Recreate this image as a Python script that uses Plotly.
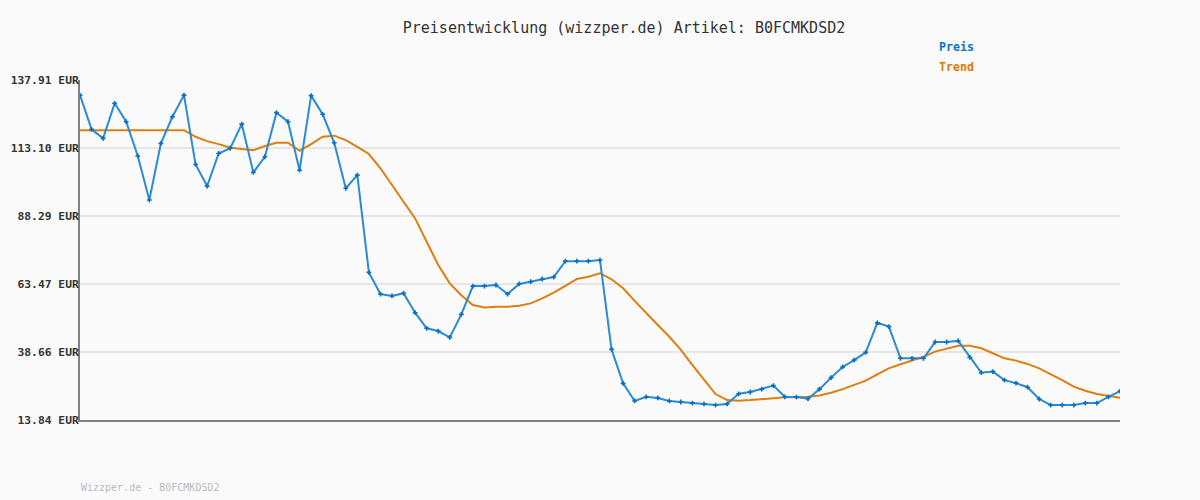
import plotly.graph_objects as go

idx = list(range(91))

preis = [132.4, 119.9, 116.6, 129.4, 122.7, 110.2, 94.1, 114.8, 124.5, 132.4,
         107.1, 99.2, 111.1, 113.0, 121.8, 104.2, 109.9, 126.0, 122.7, 105.0,
         132.2, 125.4, 115.0, 98.4, 103.2, 67.7, 59.8, 59.1, 60.1, 53.0,
         47.3, 46.3, 44.0, 52.4, 62.7, 62.7, 63.1, 59.8, 63.5, 64.3,
         65.3, 66.0, 71.8, 71.8, 71.8, 72.2, 39.6, 27.2, 20.8, 22.3,
         21.9, 20.8, 20.4, 20.0, 19.7, 19.3, 19.7, 23.4, 24.05, 25.1,
         26.4, 22.3, 22.2, 21.6, 25.1, 29.3, 33.2, 35.7, 38.5, 49.3,
         47.9, 36.35, 36.35, 36.35, 42.3, 42.3, 42.7, 36.7, 31.1, 31.5,
         28.4, 27.3, 25.8, 21.5, 19.3, 19.3, 19.3, 20.0, 20.0, 22.3,
         24.4]

trend = [119.6, 119.6, 119.6, 119.6, 119.6, 119.6, 119.6, 119.6, 119.6, 119.6,
         117.2, 115.6, 114.5, 113.2, 112.7, 112.3, 113.8, 115.0, 115.0, 112.1,
         114.5, 117.2, 117.6, 116.0, 113.5, 110.9, 105.7, 99.6, 93.5, 87.4,
         78.9, 70.4, 63.7, 59.4, 55.8, 54.9, 55.2, 55.2, 55.5, 56.4,
         58.2, 60.3, 62.8, 65.3, 66.1, 67.4, 65.2, 61.9, 57.3, 52.8,
         48.5, 44.2, 39.4, 33.9, 28.4, 23.3, 21.1, 20.9, 21.1, 21.5,
         21.9, 22.1, 22.1, 22.3, 22.8, 23.8, 25.1, 26.6, 28.2, 30.5,
         32.7, 34.2, 35.5, 36.9, 38.8, 39.8, 40.9, 40.9, 40.0, 38.2,
         36.35, 35.5, 34.3, 32.7, 30.6, 28.4, 26.0, 24.5, 23.3, 22.6,
         22.0]

tick_vals = [13.84, 38.66, 63.47, 88.29, 113.10, 137.91]
tick_text = ["13.84 EUR", "38.66 EUR", "63.47 EUR", "88.29 EUR", "113.10 EUR", "137.91 EUR"]

title_text = "Preisentwicklung (wizzper.de) Artikel: B0FCMKDSD2"
footer_text = "Wizzper.de - B0FCMKDSD2"

MONO = "DejaVu Sans Mono"
BLUE_LINE = "#2b8bd3"
BLUE_MARK = "#0a6fc0"
ORANGE = "#e07d10"

fig = go.Figure()
fig.add_trace(go.Scatter(x=idx, y=trend, mode="lines", name="Trend",
                         line=dict(color=ORANGE, width=2), hoverinfo="skip"))
fig.add_trace(go.Scatter(x=idx, y=preis, mode="lines+markers", name="Preis",
                         line=dict(color=BLUE_LINE, width=2),
                         marker=dict(symbol="cross", size=4, color=BLUE_MARK)))

padded = [t.rjust(10, "\u00a0") for t in tick_text]

pw, ph = 1200 - 160, 500 - 160
def px(xp):
    return (xp - 80) / pw
def py(yp):
    return (420 - yp) / ph

fig.update_layout(
    width=1200, height=500,
    paper_bgcolor="#fafafa", plot_bgcolor="#fafafa",
    margin=dict(l=80, r=80, t=80, b=80, autoexpand=False),
    showlegend=False,
    title=dict(text=title_text, x=0.52, xanchor="center", y=1 - 28 / 500,
               yanchor="middle", yref="container",
               font=dict(family=MONO, size=15, color="#333333")),
    xaxis=dict(range=[0, 90], showgrid=False, zeroline=False, showticklabels=False,
               ticks="", showline=True, linecolor="#808080", linewidth=2,
               automargin=False),
    yaxis=dict(range=[13.84, 137.91], tickvals=tick_vals, ticktext=padded,
               showgrid=True, gridcolor="#e6e6e6", gridwidth=2, zeroline=False,
               showline=True, linecolor="#808080", linewidth=2, ticks="",
               automargin=False, ticklabelstandoff=-3,
               tickfont=dict(family=MONO, size=11.3, color="#333333", weight="bold")),
    annotations=[
        dict(text="<b>Preis</b>", x=px(937), y=py(47), xref="paper", yref="paper",
             xanchor="left", yanchor="middle", showarrow=False,
             font=dict(family=MONO, size=11.6, color="#0a74c6")),
        dict(text="<b>Trend</b>", x=px(937), y=py(67), xref="paper", yref="paper",
             xanchor="left", yanchor="middle", showarrow=False,
             font=dict(family=MONO, size=11.6, color="#e07800")),
        dict(text=footer_text, x=px(79), y=py(487), xref="paper", yref="paper",
             xanchor="left", yanchor="middle", showarrow=False,
             font=dict(family=MONO, size=10, color="#bbbbbb")),
    ],
)

fig.write_html("out.html", config={"displayModeBar": False},
               post_script="document.body.style.margin='0';document.body.style.background='#fafafa';")
